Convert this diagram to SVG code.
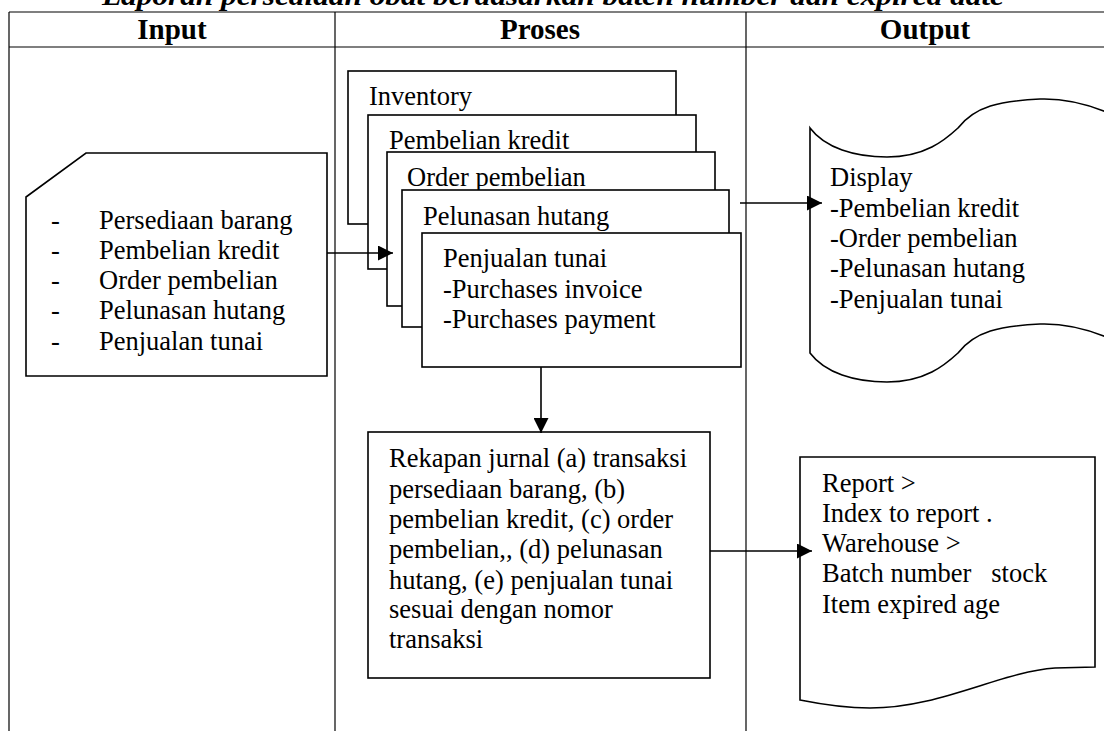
<svg xmlns="http://www.w3.org/2000/svg" width="1104" height="731" viewBox="0 0 1104 731">
<style>
.t{font-family:"Times New Roman","Liberation Serif",Tinos,"DejaVu Serif",serif;font-size:26.5px;font-weight:400;font-style:normal;fill:#000}
.h{font-family:"Liberation Serif","Times New Roman",serif;font-size:29px;font-weight:bold;fill:#000;text-anchor:middle}
.ti{font-family:"Liberation Serif","Times New Roman",serif;font-size:28px;font-weight:bold;font-style:italic;fill:#000}
.grid{stroke:#000;stroke-width:1.2;fill:none}
.shape{stroke:#000;stroke-width:1.6;fill:#fff}
.conn{stroke:#000;stroke-width:1.6;fill:none}
</style>
<defs>
<marker id="arr" viewBox="0 0 10 10" refX="10" refY="5" markerWidth="15" markerHeight="15" markerUnits="userSpaceOnUse" orient="auto">
<path d="M0,0 L10,5 L0,10 Z" fill="#000"/>
</marker>
</defs>
<rect width="1104" height="731" fill="#fff"/>
<text class="ti" x="102" y="5" textLength="902" lengthAdjust="spacingAndGlyphs">Laporan persediaan obat berdasarkan batch number dan expired date</text>
<g id="table">
<line class="grid" x1="9" y1="12" x2="1104" y2="12"/>
<line class="grid" x1="9" y1="47" x2="1104" y2="47"/>
<line class="grid" x1="9" y1="12" x2="9" y2="731"/>
<line class="grid" x1="335" y1="12" x2="335" y2="731"/>
<line class="grid" x1="746" y1="12" x2="746" y2="731"/>
<text class="h" x="172" y="39">Input</text>
<text class="h" x="540" y="39">Proses</text>
<text class="h" x="925" y="39">Output</text>
</g>
<g id="input">
<polygon class="shape" points="86,153 327,153 327,376 26,376 26,197"/>
<text class="t" x="51" y="229">-</text><text class="t" x="99" y="229">Persediaan barang</text>
<text class="t" x="51" y="259">-</text><text class="t" x="99" y="259">Pembelian kredit</text>
<text class="t" x="51" y="289">-</text><text class="t" x="99" y="289">Order pembelian</text>
<text class="t" x="51" y="319">-</text><text class="t" x="99" y="319">Pelunasan hutang</text>
<text class="t" x="51" y="350">-</text><text class="t" x="99" y="350">Penjualan tunai</text>
</g>
<g id="inventory">
<rect class="shape" x="348" y="71" width="328" height="153"/>
<text class="t" x="369" y="105">Inventory</text>
</g>
<g id="pembelian-kredit">
<rect class="shape" x="368" y="115" width="328" height="154"/>
<text class="t" x="389" y="149">Pembelian kredit</text>
</g>
<g id="order-pembelian">
<rect class="shape" x="387" y="152" width="328" height="154"/>
<text class="t" x="407" y="186">Order pembelian</text>
</g>
<g id="pelunasan-hutang">
<rect class="shape" x="402" y="190" width="327" height="137"/>
<text class="t" x="423" y="225">Pelunasan hutang</text>
</g>
<g id="penjualan-tunai">
<rect class="shape" x="422" y="233" width="319" height="134"/>
<text class="t" x="443" y="267">Penjualan tunai</text>
<text class="t" x="443" y="298">-Purchases invoice</text>
<text class="t" x="443" y="328">-Purchases payment</text>
</g>
<g id="display">
<path class="shape" d="M810,128 C825,148 855,157 887,157 C925,157 945,140 958,128 C975,106 1000,101 1040,99 C1070,98 1095,106 1120,118 L1120,343 C1095,331 1070,323 1040,324 C1000,326 975,331 958,353 C945,365 925,382 887,382 C855,382 825,373 810,353 Z"/>
<text class="t" x="830" y="186">Display</text>
<text class="t" x="830" y="217">-Pembelian kredit</text>
<text class="t" x="830" y="247">-Order pembelian</text>
<text class="t" x="830" y="277">-Pelunasan hutang</text>
<text class="t" x="830" y="308">-Penjualan tunai</text>
</g>
<g id="rekapan">
<rect class="shape" x="368" y="432" width="342" height="246"/>
<text class="t" x="389" y="467">Rekapan jurnal (a) transaksi</text>
<text class="t" x="389" y="498">persediaan barang, (b)</text>
<text class="t" x="389" y="528">pembelian kredit, (c) order</text>
<text class="t" x="389" y="558">pembelian,, (d) pelunasan</text>
<text class="t" x="389" y="589">hutang, (e) penjualan tunai</text>
<text class="t" x="389" y="618">sesuai dengan nomor</text>
<text class="t" x="389" y="648">transaksi</text>
</g>
<g id="report">
<path class="shape" d="M800,457 H1095 V667 L1055,668 C1000,672 940,708 870,708 C840,708 815,703 800,700 Z"/>
<text class="t" x="822" y="492">Report &gt;</text>
<text class="t" x="822" y="522">Index to report .</text>
<text class="t" x="822" y="552">Warehouse &gt;</text>
<text class="t" x="822" y="582" xml:space="preserve">Batch number   stock</text>
<text class="t" x="822" y="613">Item expired age</text>
</g>
<g id="connectors">
<line class="conn" x1="327" y1="253" x2="393" y2="253" marker-end="url(#arr)"/>
<line class="conn" x1="740" y1="203" x2="822" y2="203" marker-end="url(#arr)"/>
<line class="conn" x1="541" y1="367" x2="541" y2="433" marker-end="url(#arr)"/>
<line class="conn" x1="710" y1="551" x2="812" y2="551" marker-end="url(#arr)"/>
</g>
</svg>
